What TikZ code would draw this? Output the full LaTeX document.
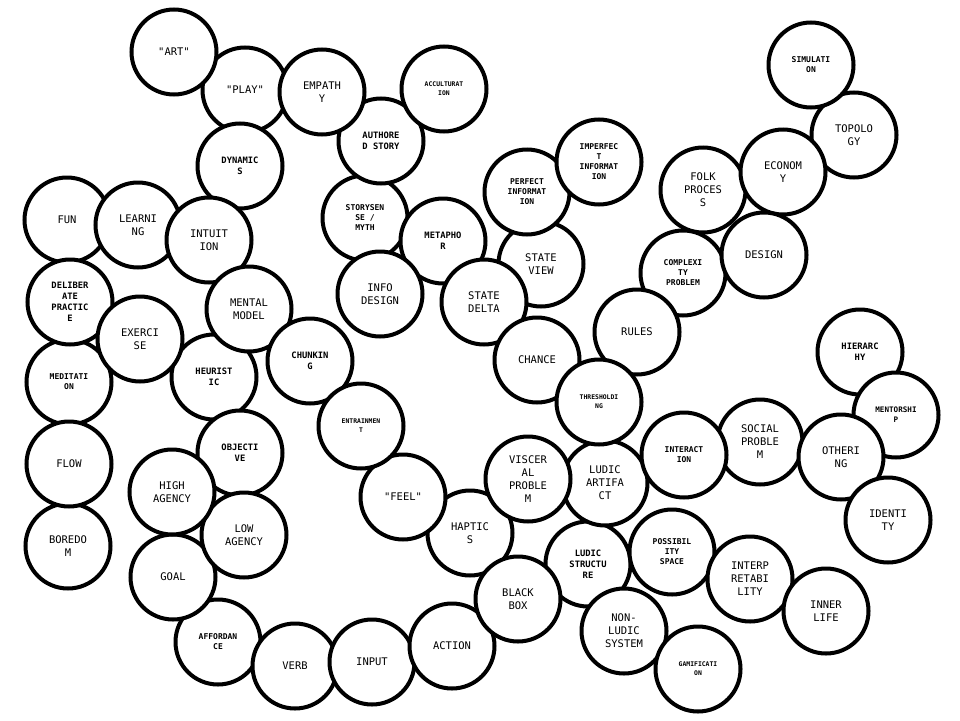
\documentclass[tikz,border=0pt]{standalone}
\usepackage{fontspec}
\setmonofont{DejaVu Sans Mono}
\usepackage{tikz}
\usetikzlibrary{shapes,positioning}
\tikzset{%
    % Specifications for style of nodes:
    bubble/.style = {
        circle, draw=black, line width=4pt,
        minimum size=85pt, inner sep=0pt,
        fill=white, align=center, text centered
    },
    bigtxt/.style = {bubble, font=\ttfamily\fontsize{10.5}{13}\selectfont},
    midtxt/.style = {bubble, font=\ttfamily\bfseries\fontsize{8.8}{11}\selectfont},
    smalltxt/.style = {bubble, font=\ttfamily\bfseries\fontsize{8}{10}\selectfont},
    tinytxt/.style = {bubble, font=\ttfamily\bfseries\fontsize{6.4}{9}\selectfont}
}
\begin{document}
\begin{tikzpicture}[x=1pt, y=-1pt]
\useasboundingbox (0,0) rectangle (960,720);
% Specification of nodes (position, etc.)
\node (storysense)  [smalltxt] at (365,218) {STORYSEN\\SE /\\MYTH};
\node (authored)    [midtxt]   at (381,141) {AUTHORE\\D STORY};
\node (accult)      [tinytxt]  at (444,89)  {ACCULTURAT\\ION};
\node (play)        [bigtxt]   at (245,90)  {"PLAY"};
\node (art)         [bigtxt]   at (174,52)  {"ART"};
\node (empathy)     [bigtxt]   at (322,92)  {EMPATH\\Y};
\node (dynamics)    [midtxt]   at (240,166) {DYNAMIC\\S};
\node (metaphor)    [midtxt]   at (443,241) {METAPHO\\R};
\node (infodesign)  [bigtxt]   at (380,294) {INFO\\DESIGN};
\node (stateview)   [bigtxt]   at (541,264) {STATE\\VIEW};
\node (perfect)     [smalltxt] at (527,192) {PERFECT\\INFORMAT\\ION};
\node (imperfect)   [smalltxt] at (599,162) {IMPERFEC\\T\\INFORMAT\\ION};
\node (statedelta)  [bigtxt]   at (484,302) {STATE\\DELTA};
\node (chance)      [bigtxt]   at (537,360) {CHANCE};
\node (folk)        [bigtxt]   at (703,190) {FOLK\\PROCES\\S};
\node (topology)    [bigtxt]   at (854,135) {TOPOLO\\GY};
\node (simulation)  [smalltxt] at (811,65)  {SIMULATI\\ON};
\node (economy)     [bigtxt]   at (783,172) {ECONOM\\Y};
\node (complexity)  [smalltxt] at (683,273) {COMPLEXI\\TY\\PROBLEM};
\node (design)      [bigtxt]   at (764,255) {DESIGN};
\node (rules)       [bigtxt]   at (637,332) {RULES};
\node (ludstruct)   [midtxt]   at (588,564) {LUDIC\\STRUCTU\\RE};
\node (ludart)      [bigtxt]   at (605,483) {LUDIC\\ARTIFA\\CT};
\node (thresh)      [tinytxt]  at (599,402) {THRESHOLDI\\NG};
% left side
\node (fun)         [bigtxt]   at (67,220)  {FUN};
\node (learning)    [bigtxt]   at (138,225) {LEARNI\\NG};
\node (intuition)   [bigtxt]   at (209,240) {INTUIT\\ION};
\node (meditation)  [smalltxt] at (69,382)  {MEDITATI\\ON};
\node (boredom)     [bigtxt]   at (68,546)  {BOREDO\\M};
\node (flow)        [bigtxt]   at (69,464)  {FLOW};
\node (delib)       [midtxt]   at (70,302)  {DELIBER\\ATE\\PRACTIC\\E};
\node (heuristic)   [midtxt]   at (214,377) {HEURIST\\IC};
\node (exercise)    [bigtxt]   at (140,339) {EXERCI\\SE};
\node (mental)      [bigtxt]   at (249,309) {MENTAL\\MODEL};
\node (chunking)    [midtxt]   at (310,361) {CHUNKIN\\G};
\node (haptics)     [bigtxt]   at (470,533) {HAPTIC\\S};
\node (feel)        [bigtxt]   at (403,497) {"FEEL"};
\node (entrain)     [tinytxt]  at (361,426) {ENTRAINMEN\\T};
\node (visceral)    [bigtxt]   at (528,479) {VISCER\\AL\\PROBLE\\M};
% bottom
\node (objective)   [midtxt]   at (240,453) {OBJECTI\\VE};
\node (afford)      [smalltxt] at (218,642) {AFFORDAN\\CE};
\node (goal)        [bigtxt]   at (173,577) {GOAL};
\node (low)         [bigtxt]   at (244,535) {LOW\\AGENCY};
\node (high)        [bigtxt]   at (172,492) {HIGH\\AGENCY};
\node (verb)        [bigtxt]   at (295,666) {VERB};
\node (input)       [bigtxt]   at (372,662) {INPUT};
\node (action)      [bigtxt]   at (452,646) {ACTION};
\node (blackbox)    [bigtxt]   at (518,599) {BLACK\\BOX};
\node (poss)        [smalltxt] at (672,552) {POSSIBIL\\ITY\\SPACE};
\node (nonludic)    [bigtxt]   at (624,631) {NON-\\LUDIC\\SYSTEM};
\node (gamif)       [tinytxt]  at (698,669) {GAMIFICATI\\ON};
\node (interp)      [bigtxt]   at (750,579) {INTERP\\RETABI\\LITY};
\node (inner)       [bigtxt]   at (826,611) {INNER\\LIFE};
% right side
\node (social)      [bigtxt]   at (760,442) {SOCIAL\\PROBLE\\M};
\node (interaction) [smalltxt] at (684,455) {INTERACT\\ION};
\node (hier)        [midtxt]   at (860,352) {HIERARC\\HY};
\node (mentor)      [smalltxt, font=\ttfamily\bfseries\fontsize{7.6}{10}\selectfont] at (896,415) {MENTORSHI\\P};
\node (othering)    [bigtxt]   at (841,457) {OTHERI\\NG};
\node (identity)    [bigtxt]   at (888,520) {IDENTI\\TY};
\end{tikzpicture}
\end{document}
